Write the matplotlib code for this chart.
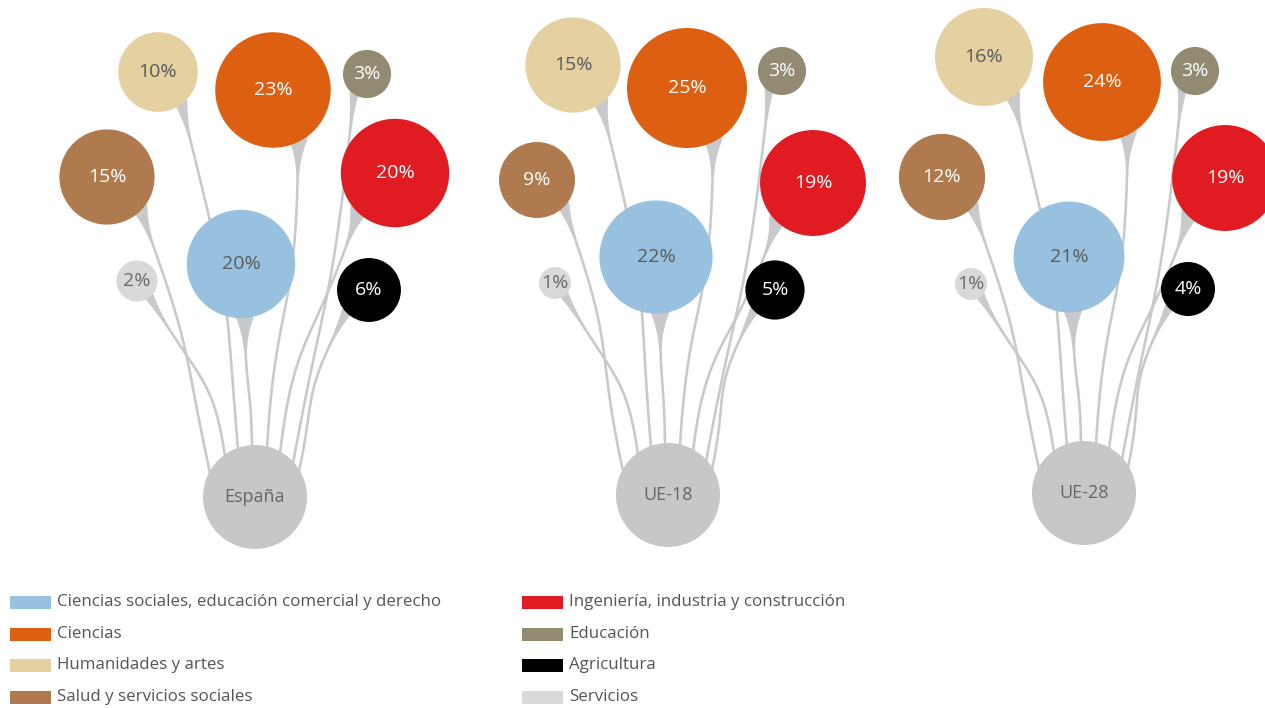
import numpy as np
import matplotlib.pyplot as plt
from matplotlib.patches import Circle, Rectangle

plt.rcParams['font.family'] = ['Open Sans', 'DejaVu Sans']

# Data
groups = ['España', 'UE-18', 'UE-28']
categories = ['Ciencias sociales, educación comercial y derecho', 'Ciencias',
              'Humanidades y artes', 'Salud y servicios sociales',
              'Ingeniería, industria y construcción', 'Educación',
              'Agricultura', 'Servicios']
espana = [20, 23, 10, 15, 20, 3, 6, 2]
ue18 = [22, 25, 15, 9, 19, 3, 5, 1]
ue28 = [21, 24, 16, 12, 19, 3, 4, 1]
values = [espana, ue18, ue28]

colors = ['#97C1DF', '#DC5F12', '#E4D0A0', '#AE7A4E',
          '#E11B22', '#938A72', '#000000', '#D9D9DB']
text_colors = ['#5a5a5a', 'white', '#5a5a5a', 'white',
               'white', 'white', 'white', '#6a6a6a']

# Layout (pixels): root centres and bubble offsets relative to root
roots = [(255, 497), (668, 495), (1084, 493)]
offsets = [
    [(-14, -233), (18, -407), (-97, -425), (-148, -320), (140, -324), (112, -423), (114, -207), (-118, -216)],
    [(-12, -238), (19, -407), (-95, -430), (-131, -315), (145, -312), (114, -424), (107, -205), (-113, -212)],
    [(-15, -236), (18, -411), (-100, -436), (-142, -316), (141, -315), (111, -422), (104, -204), (-113, -209)],
]
exit_ang = [5, 33, 42, 52, -50, -40, -50, 40]
tan_ang = [0, 0, 14, 20, -18, -6, -28, 30]
root_dx = [-3, 12, -17, -45, 25, 38, 44, -30]
R_ROOT = 52
LINE_C = '#C8C9CB'


def bubble_r(v):
    return 5 + 11 * np.sqrt(v)


def bezier(p0, p1, p2, p3, n=300):
    t = np.linspace(0, 1, n)[:, None]
    return ((1 - t) ** 3 * p0 + 3 * (1 - t) ** 2 * t * p1
            + 3 * (1 - t) * t ** 2 * p2 + t ** 3 * p3)


def stem(ax, center, r, a, ta, anchor, b_sin):
    a = np.radians(a)
    ta = np.radians(ta)
    c = np.array(center, float)
    p0 = c + 0.8 * r * np.array([np.sin(a), np.cos(a)])
    p3 = np.array(anchor, float)
    dy = abs(p3[1] - p0[1])
    p1 = p0 + 0.62 * dy * np.array([np.sin(ta), np.cos(ta)])
    p2 = p3 + 0.5 * dy * np.array([b_sin * 0.25, -1])
    pts = bezier(p0, p1, p2, p3)
    d = np.gradient(pts, axis=0)
    seg = np.linalg.norm(np.diff(pts, axis=0), axis=1)
    s = np.concatenate([[0], np.cumsum(seg)])
    # distance from the bubble edge
    s_edge = s - 0.2 * r
    lw = 2.6
    w0 = np.clip(0.32 * r, 9, 18)
    L = 42
    k = np.clip(1 - np.clip(s_edge, 0, None) / L, 0, 1)
    w = lw + (w0 - lw) * k ** 2.2
    nrm = np.stack([-d[:, 1], d[:, 0]], axis=1)
    nrm /= np.linalg.norm(nrm, axis=1)[:, None]
    left = pts + nrm * w[:, None] / 2
    right = pts - nrm * w[:, None] / 2
    poly = np.vstack([left, right[::-1]])
    ax.fill(poly[:, 0], poly[:, 1], color=LINE_C, lw=0, zorder=1)


fig = plt.figure(figsize=(12.65, 7.08), dpi=100)
ax = fig.add_axes([0, 0, 1, 1])
ax.set_xlim(0, 1265)
ax.set_ylim(708, 0)
ax.axis('off')

for g, name in enumerate(groups):
    rx, ry = roots[g]
    for i, v in enumerate(values[g]):
        r = bubble_r(v)
        cx, cy = rx + offsets[g][i][0], ry + offsets[g][i][1]
        dx = root_dx[i]
        anchor = (rx + dx, ry - np.sqrt(R_ROOT ** 2 - dx ** 2) + 2)
        stem(ax, (cx, cy), r, exit_ang[i], tan_ang[i], anchor, dx / R_ROOT)
        ax.add_patch(Circle((cx, cy), r, color=colors[i], lw=0, zorder=3))
        ax.text(cx, cy, f'{v}%', ha='center', va='center', fontsize=14,
                color=text_colors[i], zorder=4)
    ax.add_patch(Circle((rx, ry), R_ROOT, color='#C6C7C9', lw=0, zorder=2))
    ax.text(rx, ry, name, ha='center', va='center', fontsize=13,
            color='#666666', zorder=4)

# Legend
rows_y = [602, 634, 665, 697]
for i, cat in enumerate(categories):
    col, row = divmod(i, 4)
    x0 = 10 + col * 512
    y = rows_y[row]
    ax.add_patch(Rectangle((x0, y - 6.5), 41, 13, color=colors[i], lw=0))
    ax.text(x0 + 47, y, cat, ha='left', va='center', fontsize=12.2,
            color='#555555')

fig.savefig('out.png', dpi=100)
